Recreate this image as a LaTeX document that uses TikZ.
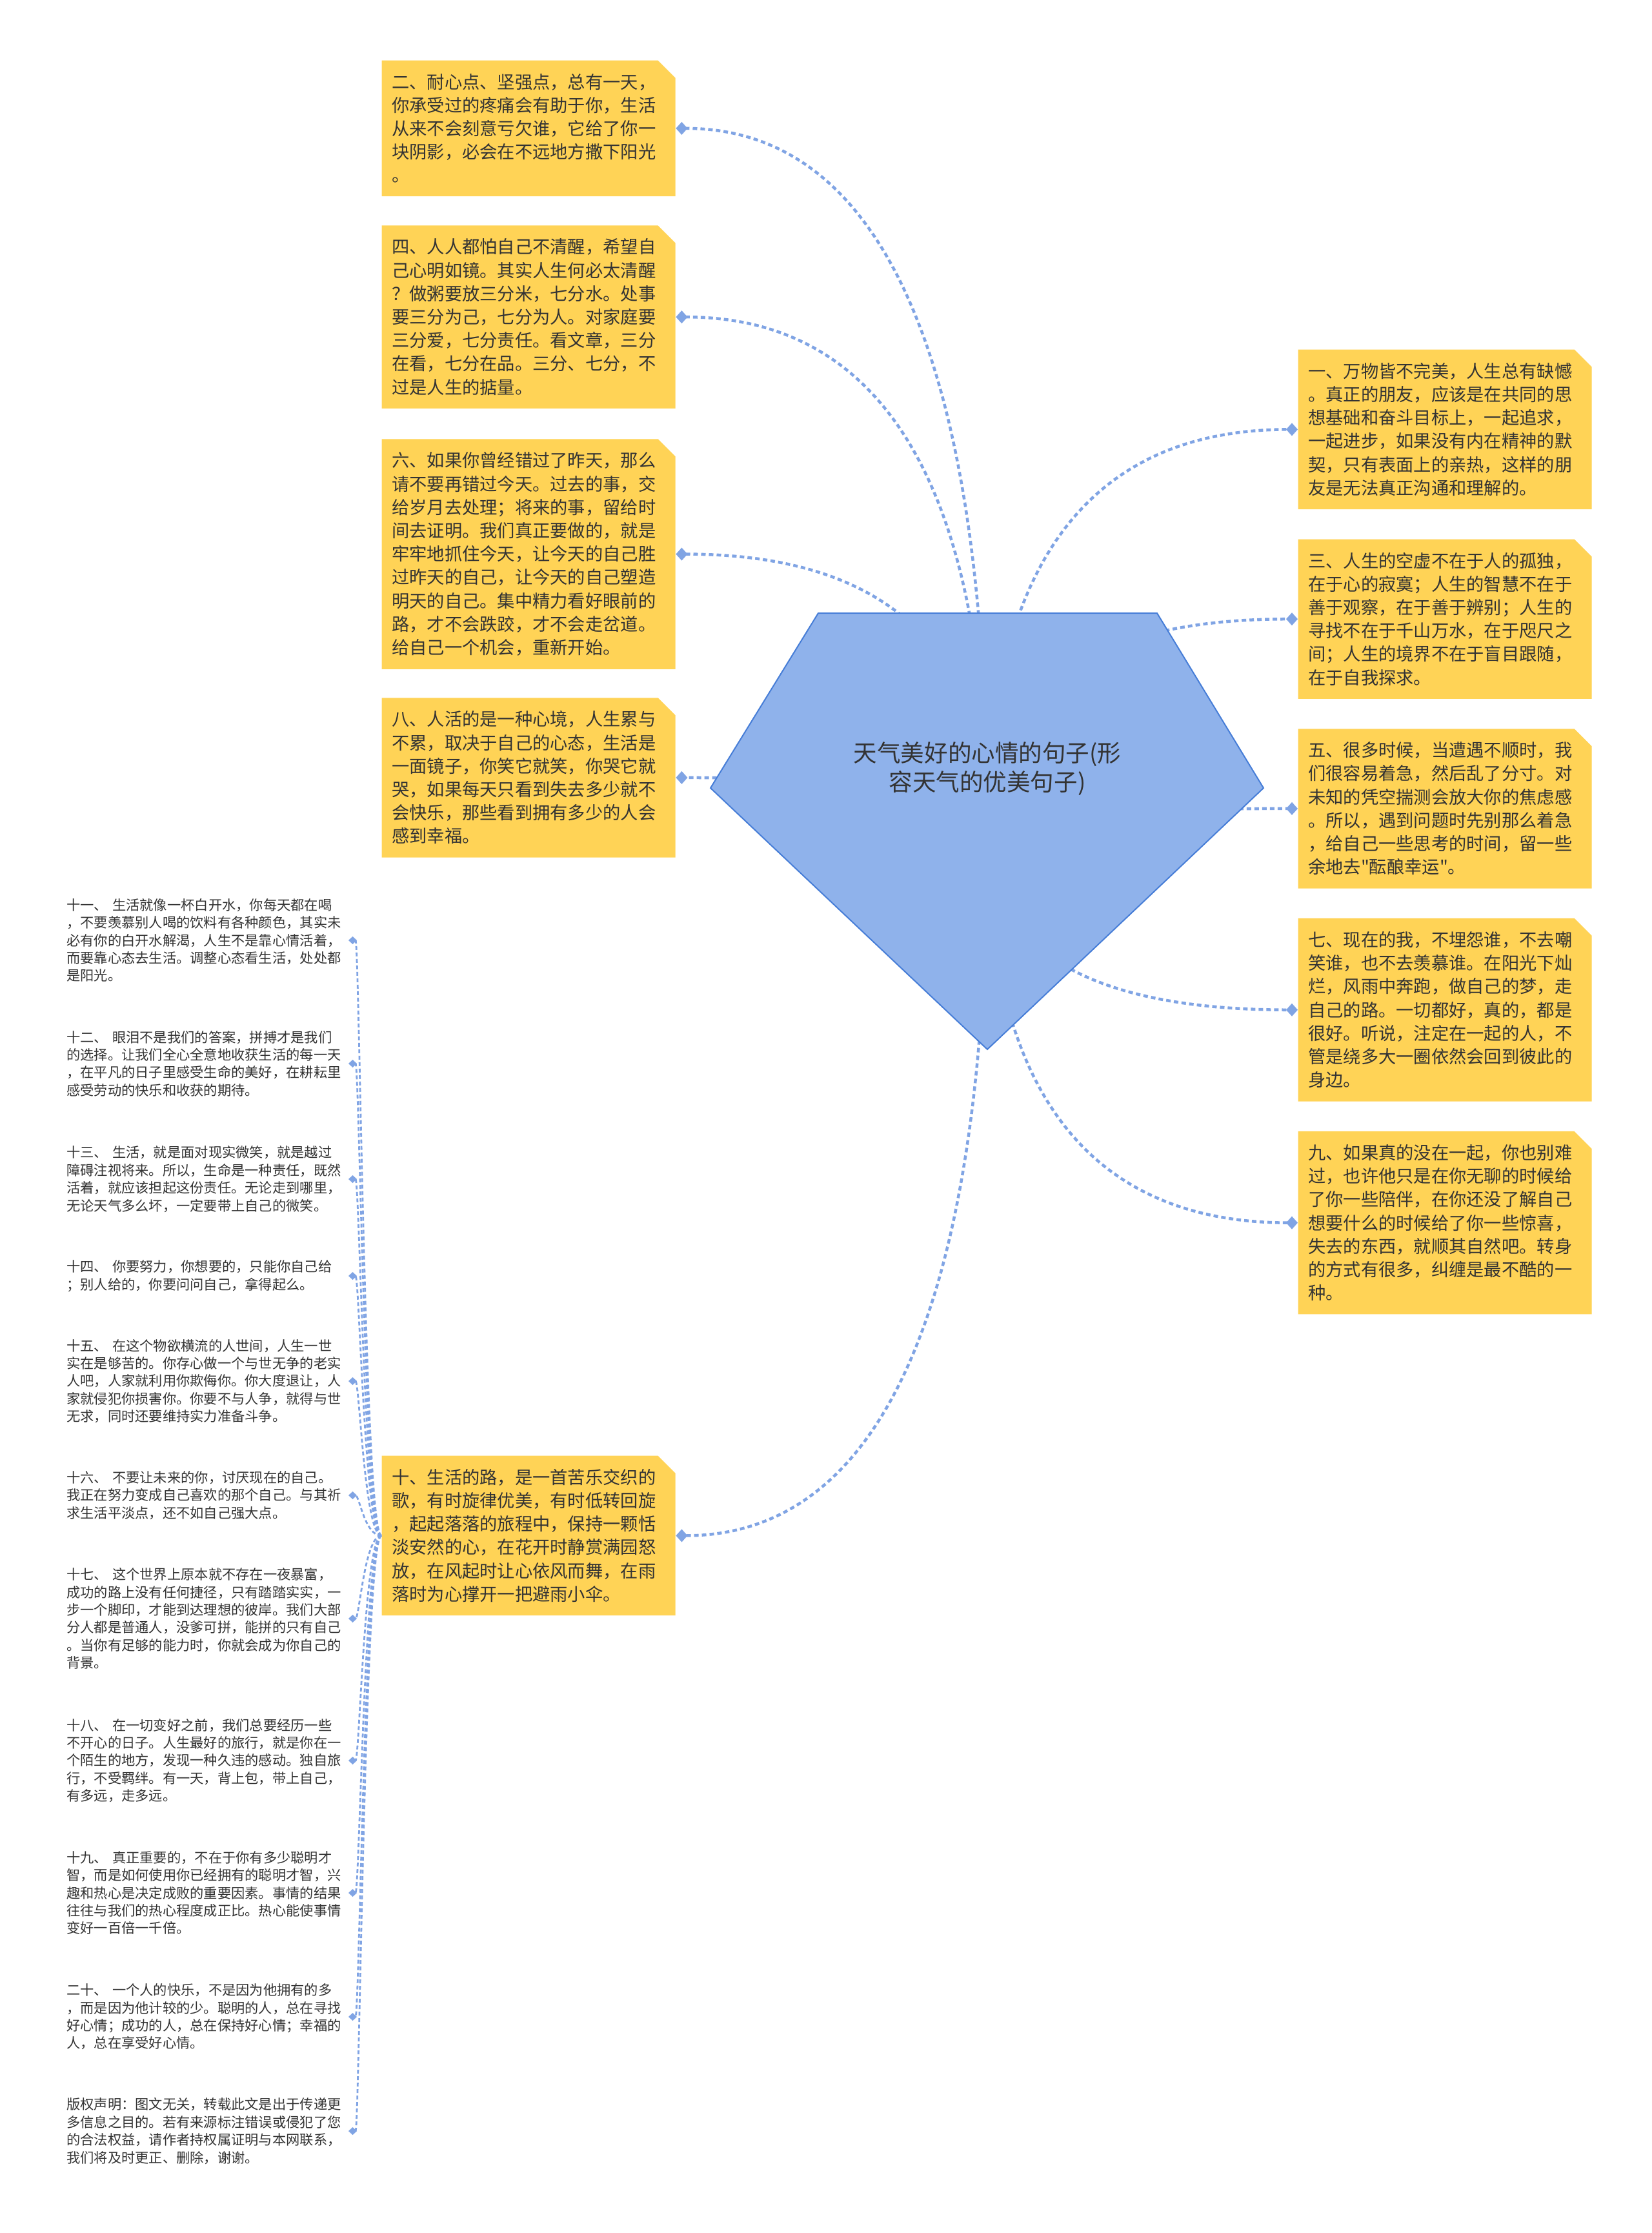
\documentclass[tikz,border=0pt]{standalone}
\usepackage{fontspec}
\newfontfamily\cjk{Noto Sans CJK SC}
\usetikzlibrary{arrows.meta, positioning, shapes.misc, calc}

\definecolor{cardfill}{RGB}{255,211,86}
\definecolor{hubfill}{RGB}{143,178,235}
\definecolor{hubline}{RGB}{70,125,215}
\definecolor{linkblue}{RGB}{128,164,228}
\definecolor{inktext}{RGB}{51,51,51}

\begin{document}
\begin{tikzpicture}[
  node distance=0.45cm,
  card/.style={chamfered rectangle, chamfered rectangle corners=north east,
    chamfered rectangle xsep=0.14cm, chamfered rectangle ysep=0.13cm,
    fill=cardfill, text=inktext, font=\cjk\fontsize{7.76pt}{10.3pt}\selectfont,
    text width=4.24cm, align=left, inner xsep=0.015cm, inner ysep=0.075cm},
  note/.style={text=inktext, font=\cjk\fontsize{6.05pt}{7.8pt}\selectfont,
    text width=4.32cm, align=left, inner xsep=0.04cm, inner ysep=0.05cm, anchor=east},
  root/.style={text=inktext, font=\cjk\fontsize{10.4pt}{13pt}\selectfont, align=center},
  link/.style={-{Diamond[length=0.18cm, width=0.2cm]}, linkblue, line width=0.045cm,
    dash pattern=on 0.07cm off 0.05cm},
  twig/.style={-{Diamond[length=0.13cm, width=0.12cm]}, linkblue, line width=0.028cm,
    dash pattern=on 0.06cm off 0.04cm},
  fan/.style={to path={.. controls ($(\tikztostart)!2/3!(\tikztostart|-\tikztotarget)$)
    and ($(\tikztotarget)!2/3!(\tikztostart|-\tikztotarget)$) .. (\tikztotarget)}}
]
  \path[use as bounding box, fill=white] (0,0) rectangle (25.6,-34.6);

  % left column
  \node[card, anchor=north west] (b2) at (5.91,-0.93) {二、耐心点、坚强点，总有一天，\\你承受过的疼痛会有助于你，生活\\从来不会刻意亏欠谁，它给了你一\\块阴影，必会在不远地方撒下阳光\\。};
  \node[card, below=0.44cm of b2] (b4) {四、人人都怕自己不清醒，希望自\\己心明如镜。其实人生何必太清醒\\？做粥要放三分米，七分水。处事\\要三分为己，七分为人。对家庭要\\三分爱，七分责任。看文章，三分\\在看，七分在品。三分、七分，不\\过是人生的掂量。};
  \node[card, below=0.46cm of b4] (b6) {六、如果你曾经错过了昨天，那么\\请不要再错过今天。过去的事，交\\给岁月去处理；将来的事，留给时\\间去证明。我们真正要做的，就是\\牢牢地抓住今天，让今天的自己胜\\过昨天的自己，让今天的自己塑造\\明天的自己。集中精力看好眼前的\\路，才不会跌跤，才不会走岔道。\\给自己一个机会，重新开始。};
  \node[card, below=0.43cm of b6] (b8) {八、人活的是一种心境，人生累与\\不累，取决于自己的心态，生活是\\一面镜子，你笑它就笑，你哭它就\\哭，如果每天只看到失去多少就不\\会快乐，那些看到拥有多少的人会\\感到幸福。};
  \node[card, anchor=north west] (b10) at (5.91,-22.55) {十、生活的路，是一首苦乐交织的\\歌，有时旋律优美，有时低转回旋\\，起起落落的旅程中，保持一颗恬\\淡安然的心，在花开时静赏满园怒\\放，在风起时让心依风而舞，在雨\\落时为心撑开一把避雨小伞。};

  % right column
  \node[card, anchor=north west] (b1) at (20.11,-5.41) {一、万物皆不完美，人生总有缺憾\\。真正的朋友，应该是在共同的思\\想基础和奋斗目标上，一起追求，\\一起进步，如果没有内在精神的默\\契，只有表面上的亲热，这样的朋\\友是无法真正沟通和理解的。};
  \node[card, below=of b1] (b3) {三、人生的空虚不在于人的孤独，\\在于心的寂寞；人生的智慧不在于\\善于观察，在于善于辨别；人生的\\寻找不在于千山万水，在于咫尺之\\间；人生的境界不在于盲目跟随，\\在于自我探求。};
  \node[card, below=of b3] (b5) {五、很多时候，当遭遇不顺时，我\\们很容易着急，然后乱了分寸。对\\未知的凭空揣测会放大你的焦虑感\\。所以，遇到问题时先别那么着急\\，给自己一些思考的时间，留一些\\余地去"酝酿幸运"。};
  \node[card, below=of b5] (b7) {七、现在的我，不埋怨谁，不去嘲\\笑谁，也不去羡慕谁。在阳光下灿\\烂，风雨中奔跑，做自己的梦，走\\自己的路。一切都好，真的，都是\\很好。听说，注定在一起的人，不\\管是绕多大一圈依然会回到彼此的\\身边。};
  \node[card, below=of b7] (b9) {九、如果真的没在一起，你也别难\\过，也许他只是在你无聊的时候给\\了你一些陪伴，在你还没了解自己\\想要什么的时候给了你一些惊喜，\\失去的东西，就顺其自然吧。转身\\的方式有很多，纠缠是最不酷的一\\种。};

  % notes under ten
  \node[note] (s11) at (5.40,-14.57) {十一、 生活就像一杯白开水，你每天都在喝\\，不要羡慕别人喝的饮料有各种颜色，其实未\\必有你的白开水解渴，人生不是靠心情活着，\\而要靠心态去生活。调整心态看生活，处处都\\是阳光。};
  \node[note] (s12) at (5.40,-16.48) {十二、 眼泪不是我们的答案，拼搏才是我们\\的选择。让我们全心全意地收获生活的每一天\\，在平凡的日子里感受生命的美好，在耕耘里\\感受劳动的快乐和收获的期待。};
  \node[note] (s13) at (5.40,-18.27) {十三、 生活，就是面对现实微笑，就是越过\\障碍注视将来。所以，生命是一种责任，既然\\活着，就应该担起这份责任。无论走到哪里，\\无论天气多么坏，一定要带上自己的微笑。};
  \node[note] (s14) at (5.40,-19.77) {十四、 你要努力，你想要的，只能你自己给\\；别人给的，你要问问自己，拿得起么。};
  \node[note] (s15) at (5.40,-21.40) {十五、 在这个物欲横流的人世间，人生一世\\实在是够苦的。你存心做一个与世无争的老实\\人吧，人家就利用你欺侮你。你大度退让，人\\家就侵犯你损害你。你要不与人争，就得与世\\无求，同时还要维持实力准备斗争。};
  \node[note] (s16) at (5.40,-23.17) {十六、 不要让未来的你，讨厌现在的自己。\\我正在努力变成自己喜欢的那个自己。与其祈\\求生活平淡点，还不如自己强大点。};
  \node[note] (s17) at (5.40,-25.08) {十七、 这个世界上原本就不存在一夜暴富，\\成功的路上没有任何捷径，只有踏踏实实，一\\步一个脚印，才能到达理想的彼岸。我们大部\\分人都是普通人，没爹可拼，能拼的只有自己\\。当你有足够的能力时，你就会成为你自己的\\背景。};
  \node[note] (s18) at (5.40,-27.28) {十八、 在一切变好之前，我们总要经历一些\\不开心的日子。人生最好的旅行，就是你在一\\个陌生的地方，发现一种久违的感动。独自旅\\行，不受羁绊。有一天，背上包，带上自己，\\有多远，走多远。};
  \node[note] (s19) at (5.40,-29.33) {十九、 真正重要的，不在于你有多少聪明才\\智，而是如何使用你已经拥有的聪明才智，兴\\趣和热心是决定成败的重要因素。事情的结果\\往往与我们的热心程度成正比。热心能使事情\\变好一百倍一千倍。};
  \node[note] (s20) at (5.40,-31.25) {二十、 一个人的快乐，不是因为他拥有的多\\，而是因为他计较的少。聪明的人，总在寻找\\好心情；成功的人，总在保持好心情；幸福的\\人，总在享受好心情。};
  \node[note] (s21) at (5.40,-33.02) {版权声明：图文无关，转载此文是出于传递更\\多信息之目的。若有来源标注错误或侵犯了您\\的合法权益，请作者持权属证明与本网联系，\\我们将及时更正、删除，谢谢。};

  \coordinate (hub) at (15.30,-12.88);

  \draw[link, fan] (hub) to (b2.east);
  \draw[link, fan] (hub) to (b4.east);
  \draw[link, fan] (hub) to (b6.east);
  \draw[link, fan] (hub) to (b8.east);
  \draw[link, fan] (hub) to (b10.east);
  \draw[link, fan] (hub) to (b1.west);
  \draw[link, fan] (hub) to (b3.west);
  \draw[link, fan] (hub) to (b5.west);
  \draw[link, fan] (hub) to (b7.west);
  \draw[link, fan] (hub) to (b9.west);

  \draw[twig] (b10.west) .. controls +(-0.26,0) and +(0.17,0) .. (s11.east);
  \draw[twig] (b10.west) .. controls +(-0.26,0) and +(0.17,0) .. (s12.east);
  \draw[twig] (b10.west) .. controls +(-0.26,0) and +(0.17,0) .. (s13.east);
  \draw[twig] (b10.west) .. controls +(-0.26,0) and +(0.17,0) .. (s14.east);
  \draw[twig] (b10.west) .. controls +(-0.26,0) and +(0.17,0) .. (s15.east);
  \draw[twig] (b10.west) .. controls +(-0.26,0) and +(0.17,0) .. (s16.east);
  \draw[twig] (b10.west) .. controls +(-0.26,0) and +(0.17,0) .. (s17.east);
  \draw[twig] (b10.west) .. controls +(-0.26,0) and +(0.17,0) .. (s18.east);
  \draw[twig] (b10.west) .. controls +(-0.26,0) and +(0.17,0) .. (s19.east);
  \draw[twig] (b10.west) .. controls +(-0.26,0) and +(0.17,0) .. (s20.east);
  \draw[twig] (b10.west) .. controls +(-0.26,0) and +(0.17,0) .. (s21.east);

  % centre pentagon
  \filldraw[fill=hubfill, draw=hubline, line width=0.02cm]
    (12.68,-9.50) -- (17.93,-9.50) -- (19.58,-12.21) -- (15.30,-16.26) -- (11.01,-12.21) -- cycle;
  \node[root] (root) at (15.30,-11.91) {天气美好的心情的句子(形\\容天气的优美句子)};
\end{tikzpicture}
\end{document}
